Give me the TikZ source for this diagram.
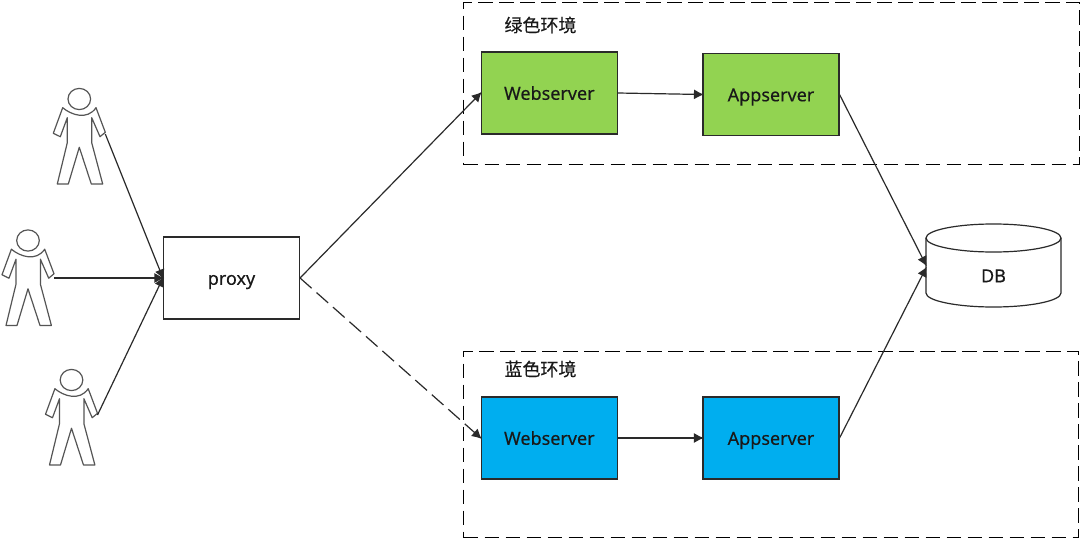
\documentclass[tikz,border=0pt]{standalone}
\usepackage{fontspec}
\setmainfont[FakeBold=0.25]{Noto Sans}
\newfontfamily\cjk[FakeBold=0.25]{Noto Sans CJK SC}
\usetikzlibrary{arrows.meta}
\definecolor{linec}{HTML}{2A2A2A}
\definecolor{greenfill}{HTML}{92D351}
\definecolor{bluefill}{HTML}{00AEEF}
\tikzset{
  x=1pt,y=-1pt,
  every node/.style={font=\fontsize{18}{20}\selectfont,text=black!90},
  boxbase/.style={draw=linec,line width=1.1pt,minimum width=136pt,minimum height=82pt,inner sep=0pt,text height=13.6pt,text depth=0pt},
  plainbox/.style={boxbase,fill=white},
  greenbox/.style={boxbase,fill=greenfill},
  bluebox/.style={boxbase,fill=bluefill},
  envbox/.style={draw=black,line width=1.3pt,dash pattern=on 14.5pt off 6.5pt,inner sep=0pt},
  conn/.style={draw=linec,line width=1.2pt,-{Latex[length=10pt,width=10pt]},shorten >=-1.5pt},
  dashconn/.style={conn,dash pattern=on 15.5pt off 6.5pt},
  personline/.style={draw=linec!80,line width=1.2pt,line join=round},
  cyl/.style={draw=linec,line width=1.2pt},
  caption/.style={font=\fontsize{18}{20}\selectfont\cjk,inner sep=0pt}
}
\newcommand{\personfig}[3]{%
  \begin{scope}[shift={(#1,#2)}]
    \draw[personline] (0,0) ellipse [x radius=11.3,y radius=10.6];
    \draw[personline] (-16.6,8.7) .. controls (-8,16) and (8,21.5) .. (16.7,8.7)
      -- (26,33.3) -- (20.7,37.7) -- (12.4,18.7) -- (12.4,43.7) -- (23.4,85) -- (12,85)
      -- (0,48.3) -- (-11,85) -- (-22,85) -- (-12,43.7) -- (-12,18.7) -- (-19,37.7) -- (-26,34.3) -- cycle;
    \coordinate (#3) at (26,35);
  \end{scope}}
\begin{document}
\begin{tikzpicture}
\useasboundingbox (0,0) rectangle (1080,538);
\fill[white] (0,0) rectangle (1080,538);
\node[envbox,minimum width=616pt,minimum height=162pt,anchor=north west] (greenenv) at (463,2) {};
\node[envbox,minimum width=615pt,minimum height=186pt,anchor=north west] (blueenv) at (463,351) {};
\node[caption] (greenlabel) at (540.5,25) {绿色环境};
\node[caption] (bluelabel) at (540.5,369) {蓝色环境};
\node[plainbox] (proxy) at (231.5,278) {proxy};
\node[greenbox] (web1) at (549.3,93) {Webserver};
\node[greenbox] (app1) at (771,94.5) {Appserver};
\node[bluebox] (web2) at (549.3,438) {Webserver};
\node[bluebox] (app2) at (771,438) {Appserver};
% database
\draw[cyl] (926,238) -- (926,293) arc [start angle=180,end angle=0,x radius=67.5,y radius=14] -- (1061,238);
\draw[cyl] (993.5,238) ellipse [x radius=67.5,y radius=14];
\node[inner sep=0pt,text height=13.6pt,text depth=0pt] (db) at (993.5,275.5) {DB};
\coordinate (dbin1) at (926,265);
\coordinate (dbin2) at (926,268);
\personfig{79.3}{99}{hand1}
\personfig{28}{240.5}{hand2}
\personfig{71.5}{380}{hand3}
\coordinate (proxyin) at (proxy.west);
\coordinate (hand2b) at (54,278);
\draw[conn] (hand1) -- (proxyin);
\draw[conn] (hand2b) -- (proxyin);
\draw[conn] (hand3) -- (proxyin);
\draw[conn] (proxy.east) -- (web1.west);
\draw[dashconn] (proxy.east) -- (web2.west);
\draw[conn] (web1.east) -- (app1.west);
\draw[conn] (web2.east) -- (app2.west);
\draw[conn] (app1.east) -- (dbin1);
\draw[conn] (app2.east) -- (dbin2);
\end{tikzpicture}
\end{document}
